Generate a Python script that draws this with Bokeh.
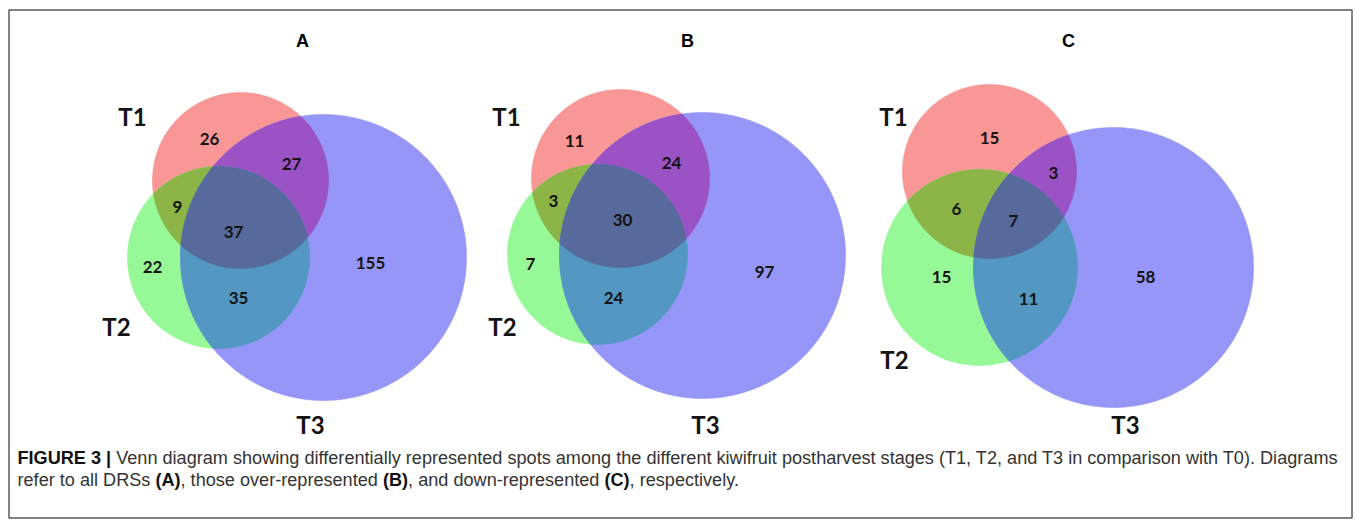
import numpy as np
from bokeh.plotting import figure
from bokeh.models import Range1d
from bokeh.core.properties import value
from bokeh.embed import file_html
from bokeh.resources import INLINE

# ---- data -------------------------------------------------------------
panels = ["A", "B", "C"]
set_names = ["T1", "T2", "T3"]
# region order: T1 only, T1&T3, T1&T2, T1&T2&T3, T2 only, T2&T3, T3 only
counts_A = [26, 27, 9, 37, 22, 35, 155]
counts_B = [11, 24, 3, 30, 7, 24, 97]
counts_C = [15, 3, 6, 7, 15, 11, 58]
counts = [counts_A, counts_B, counts_C]

# ---- layout (page pixel coordinates) ----------------------------------
W, H = 1357, 527
# circles per panel: (cx, cy, r) for T1, T2, T3
circles = [
    [(240, 180, 88), (218, 257, 91), (323, 257, 143)],
    [(620, 178, 89), (597, 254, 90), (702, 255, 143)],
    [(989, 171, 87), (979, 267, 98), (1113, 267, 140)],
]
title_x = [302, 687, 1068]
title_y = 40
set_label_pos = [
    [(132, 116), (116, 326), (310, 424)],
    [(506, 116), (502, 326), (705, 424)],
    [(893, 116), (894, 359), (1125, 424)],
]
count_pos = [
    [(209, 138), (291, 163), (177, 206), (233, 231), (152, 266), (238, 297), (370, 262)],
    [(574, 140), (671, 162), (553, 200), (622, 219), (530, 263), (613, 297), (764, 271)],
    [(989, 137), (1053, 172), (956, 208), (1013, 220), (941, 276), (1028, 298), (1145, 276)],
]

base_colors = ["#F99696", "#96F896", "#9696F8"]
pair_colors = {(0, 1): "#8DB446", (0, 2): "#9A52C4", (1, 2): "#5298C2"}
triple_color = "#586A9B"

p = figure(width=W, height=H, x_range=Range1d(0, W), y_range=Range1d(H, 0),
           output_backend="svg", toolbar_location=None, min_border=0)
p.axis.visible = False
p.grid.visible = False
p.outline_line_color = None
p.background_fill_color = "white"
p.border_fill_color = "white"


def ring(c, n=720):
    t = np.linspace(0, 2 * np.pi, n, endpoint=False)
    return np.column_stack([c[0] + c[2] * np.cos(t), c[1] + c[2] * np.sin(t)])


def inside(pts, c):
    return (pts[:, 0] - c[0]) ** 2 + (pts[:, 1] - c[1]) ** 2 <= c[2] ** 2


def intersection(cs):
    # convex intersection of discs: boundary points of each disc lying in all others
    pts = []
    for i, c in enumerate(cs):
        r = ring(c)
        mask = np.ones(len(r), bool)
        for j, d in enumerate(cs):
            if j != i:
                mask &= inside(r, d)
        pts.append(r[mask])
    pts = np.vstack(pts)
    m = pts.mean(axis=0)
    order = np.argsort(np.arctan2(pts[:, 1] - m[1], pts[:, 0] - m[0]))
    pts = pts[order]
    return list(pts[:, 0]), list(pts[:, 1])


for k in range(3):
    cs = circles[k]
    xs, ys, cols = [], [], []
    for i in range(3):
        r = ring(cs[i])
        xs.append(list(r[:, 0])); ys.append(list(r[:, 1])); cols.append(base_colors[i])
    for (i, j), col in pair_colors.items():
        x, y = intersection([cs[i], cs[j]])
        xs.append(x); ys.append(y); cols.append(col)
    x, y = intersection(cs)
    xs.append(x); ys.append(y); cols.append(triple_color)
    p.patches(xs=xs, ys=ys, fill_color=cols, line_color=cols, line_width=0.6)

    # region counts
    p.text(x=[q[0] for q in count_pos[k]], y=[q[1] for q in count_pos[k]],
           text=[str(v) for v in counts[k]], text_align="center", text_baseline="middle",
           text_font=value("Lato"), text_font_style="bold", text_font_size="17px",
           text_color="#141414")
    # set names
    p.text(x=[q[0] for q in set_label_pos[k]], y=[q[1] for q in set_label_pos[k]],
           text=set_names, text_align="center", text_baseline="middle",
           text_font=value("Lato"), text_font_style="bold", text_font_size="24px",
           text_color="#141414")

# panel letters
p.text(x=title_x, y=[title_y] * 3, text=panels, text_align="center", text_baseline="middle",
       text_font=value("Liberation Sans"), text_font_style="bold", text_font_size="18px",
       text_color="black")

# frame
p.quad(left=[8.5], right=[1351.5], top=[9.5], bottom=[517.5], fill_color=None,
       line_color="#5a5a5a", line_width=1.5)

# ---- caption ------------------------------------------------------------
# advance widths (per 1000 em) of Liberation Sans, used to run mixed-weight
# segments one after another on the same line
REG = dict(zip("abcdefghijklmnopqrstuvwxyz",
               [556, 556, 500, 556, 556, 278, 556, 556, 222, 222, 500, 222, 833,
                556, 556, 556, 556, 333, 500, 278, 556, 500, 722, 500, 500, 500]))
REG.update({"A": 667, "B": 667, "C": 722, "D": 722, "E": 667, "F": 611, "G": 778,
            "I": 278, "R": 722, "S": 667, "T": 611, "U": 722, "V": 667,
            " ": 278, ",": 278, ".": 278, "-": 333, "(": 333, ")": 333, "|": 260})
REG.update({d: 556 for d in "0123456789"})
BOLD = {"F": 611, "I": 278, "G": 778, "U": 722, "R": 722, "E": 667, " ": 278,
        "3": 556, "|": 280, "(": 333, ")": 333, "A": 722, "B": 722, "C": 722}


def em_width(s, bold):
    table = BOLD if bold else REG
    return sum(table.get(ch, 556) for ch in s) / 1000.0


line1 = [("FIGURE 3 | ", True),
         ("Venn diagram showing differentially represented spots among the different kiwifruit "
          "postharvest stages (T1, T2, and T3 in comparison with T0). Diagrams", False)]
line2 = [("refer to all DRSs ", False), ("(A)", True), (", those over-represented ", False),
         ("(B)", True), (", and down-represented ", False), ("(C)", True),
         (", respectively.", False)]

cap_left, cap_right = 17.0, 1340.0
cap_fs = (cap_right - cap_left) / sum(em_width(s, b) for s, b in line1)
cap_font = value("Liberation Sans")

for segs, y in ((line1, 457), (line2, 479)):
    x = cap_left
    for txt, bold in segs:
        p.text(x=[x], y=[y], text=[txt], text_align="left", text_baseline="middle",
               text_font=cap_font, text_font_style="bold" if bold else "normal",
               text_font_size=f"{cap_fs:.2f}px",
               text_color="#111111" if bold else "#333333")
        x += em_width(txt, bold) * cap_fs

open("out.html", "w").write(file_html(p, INLINE))
